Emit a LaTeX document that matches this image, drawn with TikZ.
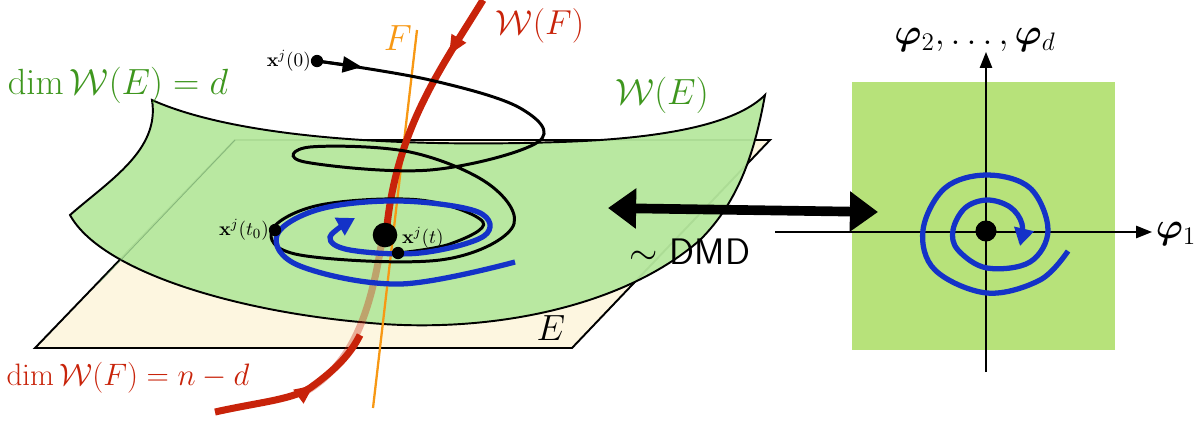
\documentclass[tikz,border=0pt]{standalone}
\usepackage{amsmath,bm}
\usetikzlibrary{arrows.meta,decorations.markings}
\definecolor{surfgreen}{RGB}{182,232,158}
\definecolor{panelgreen}{RGB}{183,226,122}
\definecolor{planecream}{RGB}{253,246,224}
\definecolor{txtgreen}{RGB}{62,150,30}
\definecolor{mfred}{RGB}{200,35,10}
\definecolor{trblue}{RGB}{20,50,200}
\definecolor{lineorange}{RGB}{247,152,20}
\tikzset{
  midarrow/.style={postaction={decorate},decoration={markings,
    mark=at position #1 with {\arrow{Triangle[length=11pt,width=9pt]}}}},
  biglbl/.style={font=\fontsize{20}{24}\selectfont},
  smalllbl/.style={font=\fontsize{11}{13}\selectfont},
}
\begin{document}
\begin{tikzpicture}[x=0.02cm,y=-0.02cm]
  \useasboundingbox (0,0) rectangle (1200,424);

  % plane E
  \draw[line width = 1.1pt, fill = planecream] (235,140) -- (770,140) -- (572,348) -- (35,348) -- cycle;

  % surface W(E)
  \draw[line width = 1.1pt, fill = surfgreen, fill opacity = .95]
    (152,100) .. controls (230,135) and (380,148) .. (560,142)
    .. controls (680,138) and (740,120) .. (765,95)
    .. controls (755,150) and (740,200) .. (700,240)
    .. controls (620,310) and (480,335) .. (360,322)
    .. controls (230,310) and (100,270) .. (70,215)
    .. controls (110,180) and (160,150) .. cycle;
  % plane edge seen through the surface
  \draw[gray!80!green, opacity = .6] (235,140) -- (100,282);

  % orange line F
  \draw[lineorange, line width = 1.3pt] (373,408) -- (417,30);
  \node[biglbl, text = lineorange] (Flbl) at (398,38) {$F$};

  % red manifold W(F)
  \draw[mfred, opacity = .35, line width = 4pt] (300,395) .. controls (345,370) and (368,330) .. (382,240);
  \draw[mfred, line width = 4pt, midarrow = .6] (215,412) .. controls (260,402) and (290,400) .. (310,388)
    .. controls (335,370) and (350,355) .. (360,335);
  \draw[mfred, line width = 4pt, midarrow = .25] (483,0) .. controls (440,70) and (395,130) .. (386,236);
  \node[biglbl, text = mfred, scale = .95] (WFlbl) at (540,26) {$\mathcal{W}(F)$};
  \node[biglbl, text = mfred, scale = .85] (dimWF) at (128,378) {$\dim\mathcal{W}(F)=n-d$};

  % trajectory
  \coordinate (x0) at (317,61);
  \coordinate (xt0) at (275,230);
  \coordinate (xt) at (398,253);
  \coordinate (xs) at (385,235);
  \draw[line width = 1.7pt] plot[smooth, tension = .6] coordinates {
    (317,61) (430,80) (520,108) (538,142) (430,170) (305,162) (310,147) (410,152)
    (490,185) (512,228) (440,260) (300,255) (272,230) (320,205) (420,200)
    (483,222) (450,244) (398,253)};
  \draw[line width = 1.7pt, -{Triangle[length=11pt,width=9pt]}] (x0) -- (362,67);

  % blue slow trajectory
  \draw[trblue, line width = 3pt, -{Triangle[length=10pt,width=11pt]}] plot[smooth, tension = .6] coordinates {
    (515,262) (400,284) (300,266) (277,235) (320,209) (400,201) (478,212) (484,236)
    (420,253) (350,250) (330,237) (355,218)};

  \fill (x0) circle (3.5pt);
  \fill (xt0) circle (3.5pt);
  \fill (xt) circle (3.5pt);
  \fill (xs) circle (7pt);
  \node[smalllbl, anchor = east] (x0lbl) at (x0) {$\mathbf{x}^j(0)$};
  \node[smalllbl, anchor = east] (xt0lbl) at (xt0) {$\mathbf{x}^j(t_0)$};
  \node[smalllbl, anchor = west] (xtlbl) at (396,238) {$\mathbf{x}^j(t)$};

  % labels of the surfaces
  \node[biglbl, text = txtgreen] (dimWE) at (118,85) {$\dim\mathcal{W}(E)=d$};
  \node[biglbl, text = txtgreen] (WElbl) at (662,95) {$\mathcal{W}(E)$};
  \node[biglbl] (Elbl) at (551,328) {$E$};

  % reduced coordinates
  \fill[panelgreen] (852,82) rectangle (1115,350);
  \coordinate (o) at (986,231);
  \draw[thick, -{Triangle[length=9pt,width=7pt]}] (775,232) -- (1152,232);
  \draw[thick, -{Triangle[length=9pt,width=7pt]}] (986,372) -- (986,52);
  \node[biglbl] (phi1) at (1176,234) {$\bm{\varphi}_1$};
  \node[biglbl] (phid) at (975,40) {$\bm{\varphi}_2,\ldots,\bm{\varphi}_d$};
  \draw[trblue, line width = 3pt, -{Triangle[length=10pt,width=11pt]}] plot[smooth, tension = .6] coordinates {
    (1068,251) (1040,280) (987,293) (935,270) (923,230) (945,188) (987,175) (1030,188)
    (1048,230) (1030,262) (987,268) (958,250) (953,230) (965,208) (987,200) (1010,207)
    (1022,224) (1020,246)};
  \fill (o) circle (6pt);

  % DMD arrow
  \coordinate (dl) at (608,208);
  \coordinate (dr) at (878,212);
  \draw[line width = 5.5pt, {Triangle[length=16pt,width=22pt]}-{Triangle[length=16pt,width=22pt]}] (dl) -- (dr);
  \node[font = \sffamily\fontsize{21}{24}\selectfont] (dmd) at (690,252) {$\sim$ DMD};
\end{tikzpicture}
\end{document}
